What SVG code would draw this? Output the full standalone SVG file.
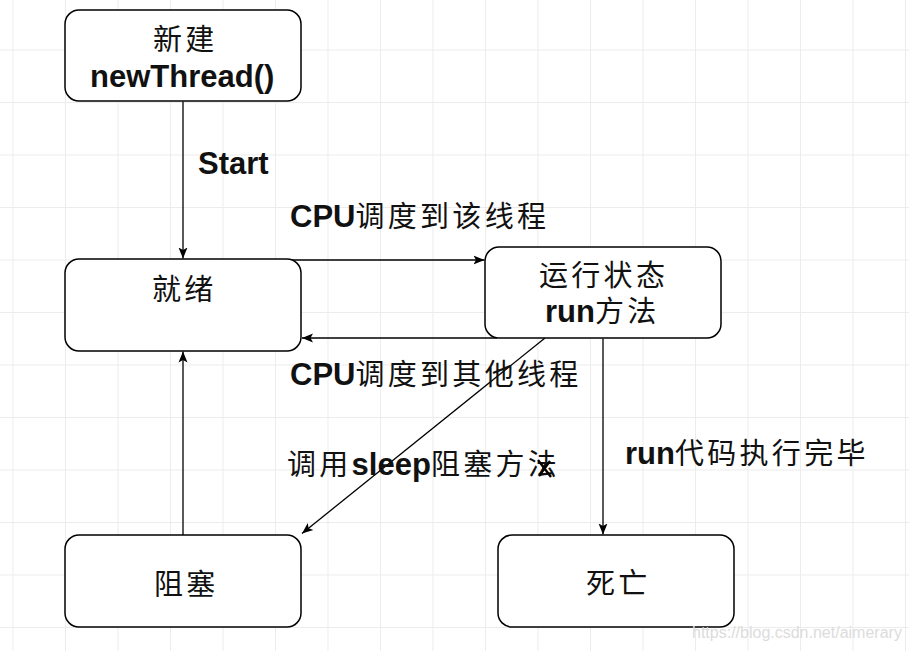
<svg xmlns="http://www.w3.org/2000/svg" width="909" height="651" viewBox="0 0 909 651">
<defs>
<pattern id="grid" patternUnits="userSpaceOnUse" x="12.5" y="-3" width="52.5" height="52.5">
<path d="M0 0.5 H52.5 M0.5 0 V52.5" fill="none" stroke="#ececec" stroke-width="1"/>
</pattern>
<marker id="arr" viewBox="0 0 11 10" refX="11" refY="5" markerWidth="11" markerHeight="10" markerUnits="userSpaceOnUse" orient="auto">
<path d="M0,0.5 L11,5 L0,9.5 L2.5,5 Z" fill="#000"/>
</marker>
</defs>
<style>
.box{fill:#fff;stroke:#000;stroke-width:1.5}
.edge{fill:none;stroke:#000;stroke-width:1.3;marker-end:url(#arr)}
.t{font-family:"Liberation Sans","Noto Sans CJK SC",sans-serif;font-size:29px;fill:#111}
.c{font-family:"Noto Sans CJK SC",sans-serif;font-size:29px;letter-spacing:3.3px;font-weight:normal}
.b{font-family:"Liberation Sans",Arial,sans-serif;font-weight:bold;font-size:31px;letter-spacing:0}
.wm{font-family:"Liberation Sans",Arial,sans-serif;font-size:16px;fill:#dcdcdc}
</style>
<rect width="909" height="651" fill="#fff"/>
<rect width="909" height="651" fill="url(#grid)"/>

<g id="edges">
<path class="edge" d="M183 101.5 V258.5"/>
<path class="edge" d="M268 260 H484.5"/>
<path class="edge" d="M497 338 H302"/>
<path class="edge" d="M545 338 L302 533.5"/>
<path class="edge" d="M603 338.5 V534.5"/>
<path class="edge" d="M183 535 V351.5"/>
</g>

<g id="node-new">
<rect class="box" x="65" y="10" width="236" height="91" rx="14"/>
<text class="t" x="153" y="50"><tspan class="c">新建</tspan></text>
<text class="t" x="90" y="87"><tspan class="b">newThread()</tspan></text>
</g>

<g id="node-ready">
<rect class="box" x="65" y="259" width="236" height="92" rx="14"/>
<text class="t" x="152" y="300"><tspan class="c">就绪</tspan></text>
</g>

<g id="node-running">
<rect class="box" x="485" y="247" width="236" height="91" rx="14"/>
<text class="t" x="539" y="286"><tspan class="c">运行状态</tspan></text>
<text class="t" x="545" y="322"><tspan class="b">run</tspan><tspan class="c">方法</tspan></text>
</g>

<g id="node-blocked">
<rect class="box" x="65" y="535" width="236" height="92" rx="14"/>
<text class="t" x="154" y="595"><tspan class="c">阻塞</tspan></text>
</g>

<g id="node-dead">
<rect class="box" x="498" y="535" width="236" height="92" rx="14"/>
<text class="t" x="586" y="594"><tspan class="c">死亡</tspan></text>
</g>

<g id="labels">
<text class="t" x="198" y="174"><tspan class="b">Start</tspan></text>
<text class="t" x="290" y="227"><tspan class="b">CPU</tspan><tspan class="c">调度到该线程</tspan></text>
<text class="t" x="290" y="385"><tspan class="b">CPU</tspan><tspan class="c">调度到其他线程</tspan></text>
<text class="t" x="287" y="475"><tspan class="c">调用</tspan><tspan class="b">sleep</tspan><tspan class="c">阻塞方法</tspan></text>
<path d="M538 460 L551 477 M550 461 L539 476" stroke="#000" stroke-width="2.4" fill="none"/>
<text class="t" x="625" y="464"><tspan class="b">run</tspan><tspan class="c">代码执行完毕</tspan></text>
</g>

<text class="wm" x="692" y="638">https://blog.csdn.net/aimerary</text>
</svg>
